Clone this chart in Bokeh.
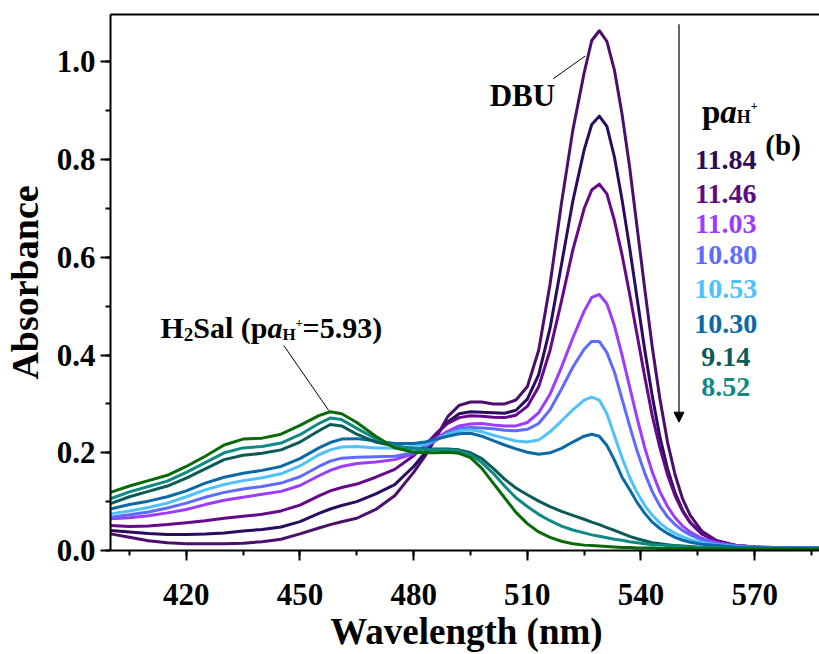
from bokeh.plotting import figure
from bokeh.models import (Label, Arrow, NormalHead, LinearAxis, SingleIntervalTicker, FixedTicker,
                          Range1d, PrintfTickFormatter)
from bokeh.embed import file_html
from bokeh.resources import INLINE

# ---------------- data ----------------
wavelength = [400, 405, 410, 415, 420, 425, 430, 435, 440, 445, 450, 455, 458, 461, 465, 470,
              475, 480, 483, 486, 489, 492, 495, 498, 501, 504, 507, 510, 513, 516, 519, 522,
              525, 527, 529, 531, 533, 535, 537, 539, 541, 543, 545, 547, 549, 551, 553, 556,
              560, 565, 570, 575, 580, 588]

abs_dbu = [.034, .027, .020, .016, .014, .014, .014, .015, .018, .023, .034, .046, .053, .059, .066, .084,
           .112, .160, .193, .232, .274, .297, .304, .304, .300, .300, .308, .335, .410, .545, .710, .860,
           .978, 1.044, 1.064, 1.042, .983, .893, .785, .660, .535, .415, .310, .222, .155, .105, .072, .040,
           .020, .010, .006, .005, .005, .004]
abs_1184 = [.041, .038, .035, .033, .033, .034, .036, .040, .043, .048, .059, .076, .085, .092, .100, .116,
            .135, .172, .200, .237, .263, .280, .284, .283, .282, .281, .287, .310, .360, .455, .585, .715,
            .820, .872, .889, .868, .805, .718, .620, .515, .410, .315, .232, .167, .118, .082, .057, .034,
            .019, .010, .007, .005, .005, .004]
abs_1146 = [.051, .049, .050, .053, .057, .061, .066, .070, .074, .081, .093, .112, .122, .129, .136, .150,
            .166, .194, .215, .240, .260, .272, .276, .275, .273, .272, .277, .295, .335, .410, .510, .615,
            .700, .738, .750, .730, .675, .605, .525, .440, .355, .275, .210, .155, .112, .080, .057, .035,
            .020, .011, .007, .006, .005, .005]
abs_1103 = [.065, .067, .071, .077, .084, .094, .103, .109, .115, .121, .133, .153, .164, .172, .178, .181,
            .186, .198, .213, .230, .244, .255, .259, .260, .257, .255, .255, .262, .282, .320, .375, .435,
            .490, .518, .524, .505, .460, .400, .335, .270, .210, .160, .120, .090, .067, .050, .038, .025,
            .016, .010, .007, .006, .005, .005]
abs_1080 = [.068, .073, .079, .087, .097, .109, .119, .126, .131, .138, .151, .172, .183, .189, .191, .192,
            .193, .200, .212, .226, .240, .249, .252, .251, .249, .246, .245, .248, .260, .288, .330, .375,
            .412, .428, .428, .405, .365, .310, .255, .203, .158, .120, .091, .069, .053, .041, .032, .022,
            .014, .009, .007, .006, .005, .005]
abs_1053 = [.075, .081, .088, .097, .110, .124, .135, .143, .149, .157, .173, .196, .206, .212, .213, .210,
            .210, .213, .218, .228, .238, .245, .247, .243, .236, .230, .224, .222, .226, .243, .265, .288,
            .308, .314, .308, .280, .235, .190, .150, .118, .092, .072, .056, .044, .035, .028, .022, .016,
            .012, .008, .006, .005, .005, .005]
abs_1030 = [.085, .094, .101, .110, .122, .138, .150, .158, .164, .172, .188, .210, .221, .228, .229, .224,
            .219, .219, .222, .228, .234, .239, .240, .234, .225, .216, .208, .201, .197, .200, .209, .222,
            .234, .238, .234, .215, .185, .150, .125, .098, .076, .058, .045, .035, .027, .021, .017, .013,
            .010, .007, .006, .005, .005, .005]
abs_914 = [.096, .110, .121, .132, .148, .167, .186, .195, .199, .206, .222, .245, .258, .255, .238, .222,
           .214, .209, .208, .208, .208, .206, .200, .188, .168, .146, .128, .114, .101, .090, .080, .072,
           .064, .058, .053, .047, .041, .035, .029, .024, .020, .016, .014, .012, .010, .009, .008, .006,
           .005, .004, .004, .003, .003, .003]
abs_852 = [.106, .120, .131, .142, .160, .180, .200, .210, .213, .220, .237, .260, .271, .268, .250, .229,
           .214, .208, .206, .206, .206, .204, .196, .180, .158, .132, .108, .090, .074, .061, .050, .042,
           .036, .032, .029, .026, .023, .021, .018, .016, .014, .012, .011, .010, .009, .008, .007, .006,
           .005, .004, .004, .003, .003, .003]
abs_h2sal = [.119, .132, .143, .154, .172, .193, .216, .228, .230, .238, .256, .276, .284, .280, .262, .234,
             .210, .201, .200, .200, .201, .199, .190, .168, .138, .108, .078, .055, .038, .027, .019, .014,
             .011, .010, .009, .008, .007, .006, .006, .005, .005, .005, .004, .004, .004, .004, .004, .003,
             .003, .003, .003, .003, .003, .003]

series = [abs_dbu, abs_1184, abs_1146, abs_1103, abs_1080, abs_1053, abs_1030, abs_914, abs_852, abs_h2sal]
series_colors = ["#4B0F6B", "#2B0B5F", "#65098A", "#9D3BFF", "#5E6BFF", "#4EC1FF",
                 "#0A69A6", "#0B5A55", "#0E8A84", "#0A6A0A"]

legend_labels = ["11.84", "11.46", "11.03", "10.80", "10.53", "10.30", "9.14", "8.52"]
legend_colors = ["#2B0B55", "#5C0C7C", "#9D3BFF", "#5E6BFF", "#4EC1FF", "#0A69A6", "#0B5A55", "#0E8A84"]

# ---------------- figure ----------------
FONT = "Liberation Serif"
X0, X1 = 400, 587.9
Y0, Y1 = 0, 1.0972

p = figure(width=819, height=654, frame_width=712, frame_height=536,
           x_range=Range1d(X0, X1), y_range=Range1d(Y0, Y1),
           output_backend="svg", toolbar_location=None,
           min_border_left=107, min_border_right=0, min_border_top=14, min_border_bottom=104,
           x_axis_label="Wavelength (nm)", y_axis_label="Absorbance")
p.xgrid.visible = False
p.ygrid.visible = False
p.outline_line_color = None
p.background_fill_color = "white"
p.border_fill_color = "white"

xa = p.xaxis[0]
xa.ticker = SingleIntervalTicker(interval=30, num_minor_ticks=2)
ya = p.yaxis[0]
ya.ticker = SingleIntervalTicker(interval=0.2, num_minor_ticks=2)
ya.formatter = PrintfTickFormatter(format="%.1f")

for ax in (xa, ya):
    ax.axis_line_width = 2
    ax.axis_line_color = "black"
    ax.major_tick_line_width = 2
    ax.minor_tick_line_width = 2
    ax.major_tick_out = 10
    ax.major_tick_in = 0
    ax.minor_tick_out = 5
    ax.minor_tick_in = 0
    ax.major_label_text_font = FONT
    ax.major_label_text_font_style = "bold"
    ax.major_label_text_font_size = "31px"
    ax.major_label_text_color = "black"
    ax.axis_label_text_font = FONT
    ax.axis_label_text_font_style = "bold"
    ax.axis_label_text_color = "black"

xa.major_label_standoff = 23
xa.axis_label_standoff = 3
xa.axis_label_text_font_size = "37px"
ya.major_label_standoff = 5
ya.axis_label_standoff = 8
ya.axis_label_text_font_size = "38px"

top = LinearAxis(ticker=FixedTicker(ticks=[]), axis_line_width=2, axis_line_color="black",
                 major_tick_line_color=None, minor_tick_line_color=None, axis_label=None)
p.add_layout(top, "above")

# ---------------- curves ----------------
for vals, col in zip(series, series_colors):
    p.line(wavelength, vals, line_color=col, line_width=3, line_join="round")

# ---------------- annotations ----------------
def dx(px):  # page pixel -> data x (annotation placement)
    return X0 + (px - 106.7) / 3.79

def dy(py):  # page pixel -> data y
    return (550 - py) / 488.5

W = {'H': .778, 'S': .556, 'a': .5, 'l': .278, ' ': .25, '(': .333, ')': .333, 'p': .556,
     '=': .570, '+': .570, '.': .25, 'b': .556, 'D': .722, 'B': .667, 'U': .722}
for d in "0123456789":
    W[d] = .5

def rich(pieces, px, py):
    off = 0.0
    for text, size, style, yoff in pieces:
        p.add_layout(Label(x=dx(px), y=dy(py), x_offset=off, y_offset=yoff, text=text,
                           text_font=FONT, text_font_size=f"{size}px", text_font_style=style,
                           text_color="black", text_align="left", text_baseline="alphabetic"))
        off += sum(W.get(c, .5) for c in text) * size

# DBU label + leader
rich([("DBU", 31, "bold", 0)], 486, 95)
p.segment(x0=[dx(549.5)], y0=[dy(78.3)], x1=[dx(581.5)], y1=[dy(55.5)],
          line_color="black", line_width=1)

# H2Sal label + leader
rich([("H", 30, "bold", 0), ("2", 19, "bold", -7), ("Sal (p", 30, "bold", 0),
      ("a", 30, "bold italic", 0), ("H", 17, "bold", -7), ("+", 12, "bold", 4),
      ("=5.93)", 30, "bold", 0)], 156.7, 326.7)
p.segment(x0=[dx(280)], y0=[dy(345)], x1=[dx(325)], y1=[dy(410)],
          line_color="black", line_width=1)

# legend header
rich([("p", 33, "bold", 0), ("a", 33, "bold italic", 0), ("H", 18, "bold", -5),
      ("+", 12, "bold", 6)], 698.3, 111.7)
rich([("(b)", 29, "bold", 0)], 761.7, 144.8)

legend_baselines = [160, 193.3, 223.3, 255, 288.3, 323.3, 356.7, 386.7]
for txt, col, by in zip(legend_labels, legend_colors, legend_baselines):
    p.add_layout(Label(x=dx(722), y=dy(by), text=txt, text_font=FONT, text_font_size="28px",
                       text_font_style="bold", text_color=col, text_align="center",
                       text_baseline="alphabetic"))

# arrow
p.add_layout(Arrow(end=NormalHead(size=10, fill_color="black", line_color="black", line_width=1),
                   x_start=dx(675.3), y_start=dy(23.7), x_end=dx(675.3), y_end=dy(421.7),
                   line_color="black", line_width=1.2))

open("out.html", "w").write(file_html(p, INLINE))
